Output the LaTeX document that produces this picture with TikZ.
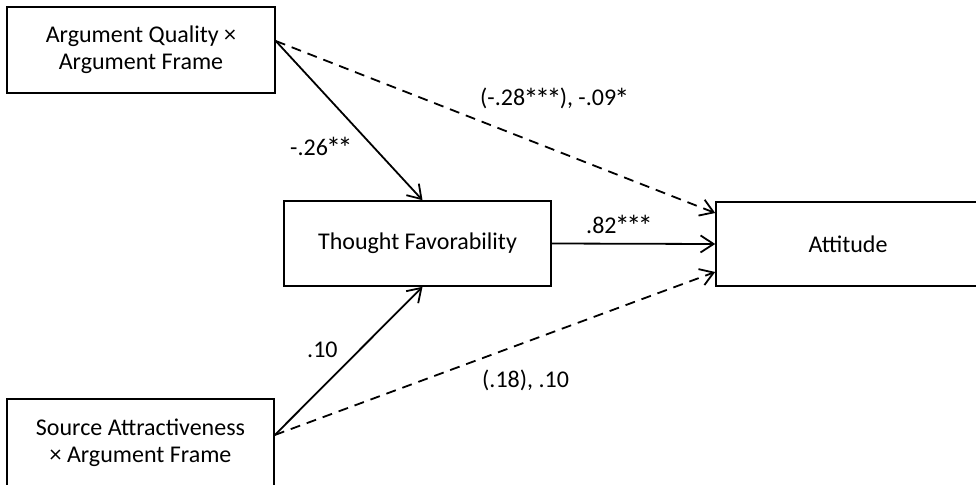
\documentclass[tikz,border=0pt]{standalone}
\usepackage{fontspec}
\usepackage{graphicx}
\setmainfont{Carlito}
\usetikzlibrary{arrows.meta}
\newcommand{\sigstar}{\makebox[0.48em]{\raisebox{-0.14em}{\scalebox{1.25}{*}}}}
\begin{document}
\begin{tikzpicture}[x=1pt,y=-1pt,
  box/.style={draw, line width=1.6pt, minimum width=#1, inner sep=0pt, align=center,
    font=\fontsize{24}{27}\selectfont},
  conn/.style={line width=1.8pt, -{Straight Barb[length=13pt,width=17pt,line width=1.8pt]}},
  dconn/.style={conn, dash pattern=on 10pt off 7pt},
  lbl/.style={anchor=base west, inner sep=0pt, font=\fontsize{24}{28}\selectfont}]
\useasboundingbox (0,0) rectangle (976,484);
\node[box=268pt, minimum height=86pt] (AQ) at (141,50) {Argument Quality ×\\Argument Frame};
\node[box=267pt, minimum height=87pt] (SA) at (140.5,442.5) {Source Attractiveness\\× Argument Frame};
\node[box=267pt, minimum height=85pt] (TF) at (417.5,243.5) {Thought Favorability};
\node[box=264pt, minimum height=84pt] (AT) at (848,244) {Attitude};
\draw[conn] ([yshift=9pt]AQ.east) -- ([xshift=5pt]TF.north);
\draw[dconn] ([yshift=9pt]AQ.east) -- ([yshift=31pt]AT.west);
\draw[conn] ([yshift=7.5pt]SA.east) -- ([xshift=5pt]TF.south);
\draw[dconn] ([yshift=7.5pt]SA.east) -- ([yshift=-28pt]AT.west);
\draw[conn] (TF.east) -- (AT.west);
\node[lbl] (l1) at (290,155) {-.26\sigstar\sigstar};
\node[lbl] (l2) at (480,106) {(-.28\sigstar\sigstar\sigstar), -.09\sigstar};
\node[lbl] (l3) at (586,233) {.82\sigstar\sigstar\sigstar};
\node[lbl] (l4) at (307,357) {.10};
\node[lbl] (l5) at (482,387) {(.18), .10};
\end{tikzpicture}
\end{document}
